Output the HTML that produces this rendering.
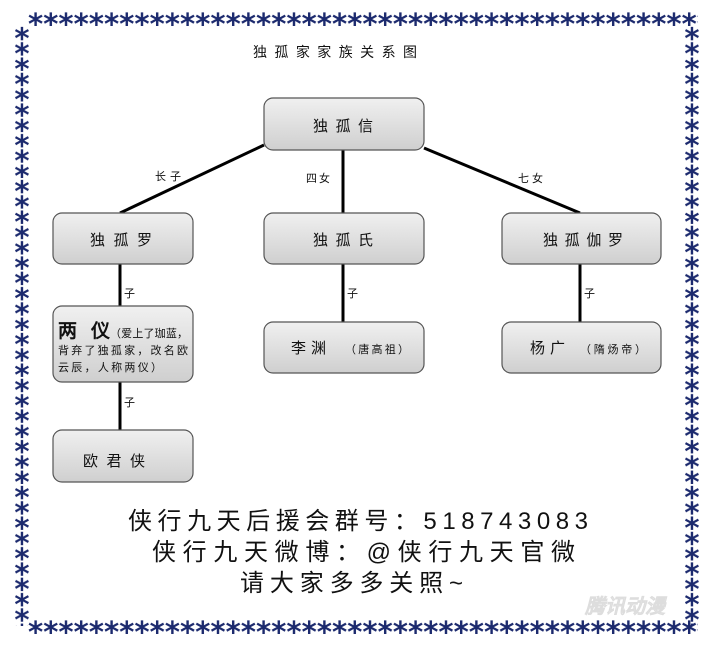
<!DOCTYPE html>
<html><head><meta charset="utf-8"><style>
body{margin:0;background:#fff;}
svg{display:block;}
.n{font-family:"Liberation Sans","WenQuanYi Zen Hei",sans-serif;}
</style></head><body>
<svg width="720" height="650" viewBox="0 0 720 650" xmlns="http://www.w3.org/2000/svg">
<defs>
<pattern id="ph" x="28" y="10" width="15.2" height="24" patternUnits="userSpaceOnUse">
<text x="7.6" y="24" text-anchor="middle" font-family="DejaVu Sans" font-weight="bold" font-size="29" fill="#1c2a6e">*</text>
</pattern>
<pattern id="pv" x="12" y="26" width="20" height="15.3" patternUnits="userSpaceOnUse">
<text x="10" y="22" text-anchor="middle" font-family="DejaVu Sans" font-weight="bold" font-size="29" fill="#1c2a6e">*</text>
</pattern>
<pattern id="pv2" x="682" y="26" width="20" height="15.3" patternUnits="userSpaceOnUse">
<text x="10" y="22" text-anchor="middle" font-family="DejaVu Sans" font-weight="bold" font-size="29" fill="#1c2a6e">*</text>
</pattern>
<pattern id="pb" x="28" y="618" width="15.2" height="24" patternUnits="userSpaceOnUse">
<text x="7.6" y="24" text-anchor="middle" font-family="DejaVu Sans" font-weight="bold" font-size="29" fill="#1c2a6e">*</text>
</pattern>
<linearGradient id="g" x1="0" y1="0" x2="0" y2="1">
<stop offset="0" stop-color="#f0f0f0"/><stop offset="1" stop-color="#cfcfcf"/>
</linearGradient>
</defs>
<rect x="28" y="10" width="670" height="24" fill="url(#ph)"/>
<rect x="28" y="618" width="670" height="24" fill="url(#pb)"/>
<rect x="12" y="26" width="20" height="600" fill="url(#pv)"/>
<rect x="682" y="26" width="20" height="600" fill="url(#pv2)"/>

<text x="253" y="57" textLength="164" class="n" font-size="14" fill="#111">独孤家家族关系图</text>

<g stroke="#000" stroke-width="3" fill="none">
<line x1="264" y1="145" x2="120" y2="213"/>
<line x1="343" y1="150" x2="343" y2="213"/>
<line x1="424" y1="148" x2="580" y2="213"/>
<line x1="120" y1="264" x2="120" y2="306"/>
<line x1="343" y1="264" x2="343" y2="322"/>
<line x1="580" y1="264" x2="580" y2="322"/>
<line x1="120" y1="382" x2="120" y2="430"/>
</g>
<g class="n" font-size="11" fill="#111">
<text x="155" y="180" letter-spacing="4">长子</text>
<text x="306" y="182" letter-spacing="2">四女</text>
<text x="518" y="182" letter-spacing="3">七女</text>
<text x="124" y="297">子</text>
<text x="347" y="297">子</text>
<text x="584" y="297">子</text>
<text x="124" y="406">子</text>
</g>
<g fill="url(#g)" stroke="#555" stroke-width="1.2">
<rect x="264" y="98" width="160" height="52" rx="9"/>
<rect x="53" y="213" width="140" height="51" rx="9"/>
<rect x="264" y="213" width="160" height="51" rx="9"/>
<rect x="502" y="213" width="159" height="51" rx="9"/>
<rect x="53" y="306" width="140" height="76" rx="9"/>
<rect x="264" y="322" width="160" height="51" rx="9"/>
<rect x="502" y="322" width="159" height="51" rx="9"/>
<rect x="53" y="430" width="140" height="52" rx="9"/>
</g>
<g class="n" font-size="15" fill="#111">
<text x="313" y="131" textLength="60">独孤信</text>
<text x="90" y="245" textLength="62">独孤罗</text>
<text x="313" y="245" textLength="60">独孤氏</text>
<text x="543" y="245" textLength="80">独孤伽罗</text>
<text x="83" y="466" textLength="62">欧君侠</text>
</g>
<g class="n" fill="#111">
<text x="291" y="353" font-size="15" letter-spacing="5">李渊</text>
<text x="345" y="353" font-size="11" textLength="64">（唐高祖）</text>
<text x="530" y="353" font-size="15" letter-spacing="5">杨广</text>
<text x="580" y="353" font-size="11" textLength="66">（隋炀帝）</text>
<text x="58" y="337" font-size="19" font-weight="bold" textLength="52">两仪</text>
<text x="110" y="337" font-size="11" textLength="78">（爱上了珈蓝，</text>
<text x="58" y="354" font-size="11" textLength="130">背弃了独孤家，改名欧</text>
<text x="58" y="371" font-size="11" textLength="104">云辰，人称两仪）</text>
</g>
<g class="n" fill="#111" font-size="24">
<text x="128" y="529" textLength="460">侠行九天后援会群号：518743083</text>
<text x="152" y="560" textLength="423">侠行九天微博：@侠行九天官微</text>
<text x="240" y="591" textLength="223">请大家多多关照~</text>
</g>
<text x="625" y="613" text-anchor="middle" class="n" font-size="20" font-weight="bold" font-style="italic" fill="#eeeeee" stroke="#dddddd" stroke-width="0.5">腾讯动漫</text>
</svg>
</body></html>
